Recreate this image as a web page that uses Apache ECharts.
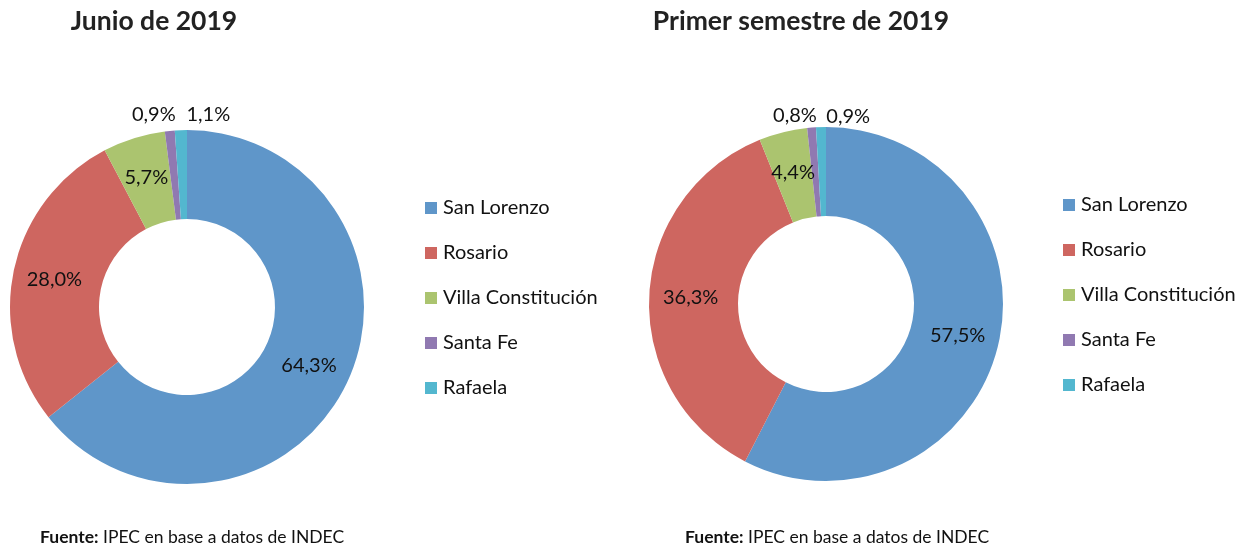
<!DOCTYPE html>
<html>
<head>
<meta charset="utf-8">
<script src="https://cdn.jsdelivr.net/npm/echarts@6/dist/echarts.min.js"></script>
<style>
  html, body { margin: 0; padding: 0; background: #fff; }
  #chart { width: 1248px; height: 550px; }
</style>
</head>
<body>
<div id="chart"></div>
<script>
const categories = ['San Lorenzo', 'Rosario', 'Villa Constitución', 'Santa Fe', 'Rafaela'];
const juneValues = [64.3, 28.0, 5.7, 0.9, 1.1];
const semesterValues = [57.5, 36.3, 4.4, 0.8, 0.9];
const titles = ['Junio de 2019', 'Primer semestre de 2019'];
const sourceText = 'IPEC en base a datos de INDEC';

const COLORS = ['#5f96c9', '#ce6660', '#abc46f', '#9079b1', '#53b7cf'];
const FONT = 'Lato, "Open Sans", sans-serif';

// las etiquetas chicas (Santa Fe, Rafaela) van arriba, fuera del anillo
function buildData(values, offsets) {
  return categories.map((name, i) => {
    const item = { name, value: values[i] };
    if (offsets[i]) item.label = { offset: offsets[i] };
    return item;
  });
}

function pie(values, center, offsets) {
  return {
    type: 'pie',
    center,
    radius: [88, 177],
    startAngle: 90,
    clockwise: true,
    avoidLabelOverlap: false,
    silent: true,
    label: {
      show: true,
      position: 'inside',
      color: '#111',
      fontFamily: FONT,
      fontSize: 20,
      formatter: (p) => p.value.toFixed(1).replace('.', ',') + '%'
    },
    labelLine: { show: false },
    itemStyle: { borderWidth: 0 },
    data: buildData(values, offsets)
  };
}

function legend(left, top) {
  return {
    orient: 'vertical',
    left, top,
    padding: 0,
    itemWidth: 12, itemHeight: 12,
    itemGap: 25,
    icon: 'rect',
    selectedMode: false,
    textStyle: { fontFamily: FONT, fontSize: 20, color: '#111', lineHeight: 20, padding: [0, 0, 0, 1] },
    data: categories
  };
}

function source(left) {
  return {
    text: '{b|Fuente:} ' + sourceText,
    left, top: 528, padding: 0,
    textStyle: {
      fontFamily: FONT, fontSize: 17.5, fontWeight: 'normal', color: '#111',
      rich: { b: { fontFamily: FONT, fontSize: 17.5, fontWeight: 'bold', color: '#111' } }
    }
  };
}

const chart = echarts.init(document.getElementById('chart'), null, { renderer: 'canvas' });
chart.setOption({
  color: COLORS,
  animation: false,
  title: [
    { text: titles[0], left: 149, top: 3, textAlign: 'center', textStyle: { fontFamily: FONT, fontWeight: 'bold', fontSize: 26.5, color: '#222' } },
    { text: titles[1], left: 796, top: 3, textAlign: 'center', textStyle: { fontFamily: FONT, fontWeight: 'bold', fontSize: 26.5, color: '#222' } },
    source(40),
    source(685)
  ],
  legend: [legend(425, 198), legend(1063, 195)],
  series: [
    pie(juneValues, [187, 307], { 3: [-20, -58], 4: [26, -57] }),
    pie(semesterValues, [826, 304], { 3: [-20, -53], 4: [26, -52] })
  ]
});
</script>
</body>
</html>
